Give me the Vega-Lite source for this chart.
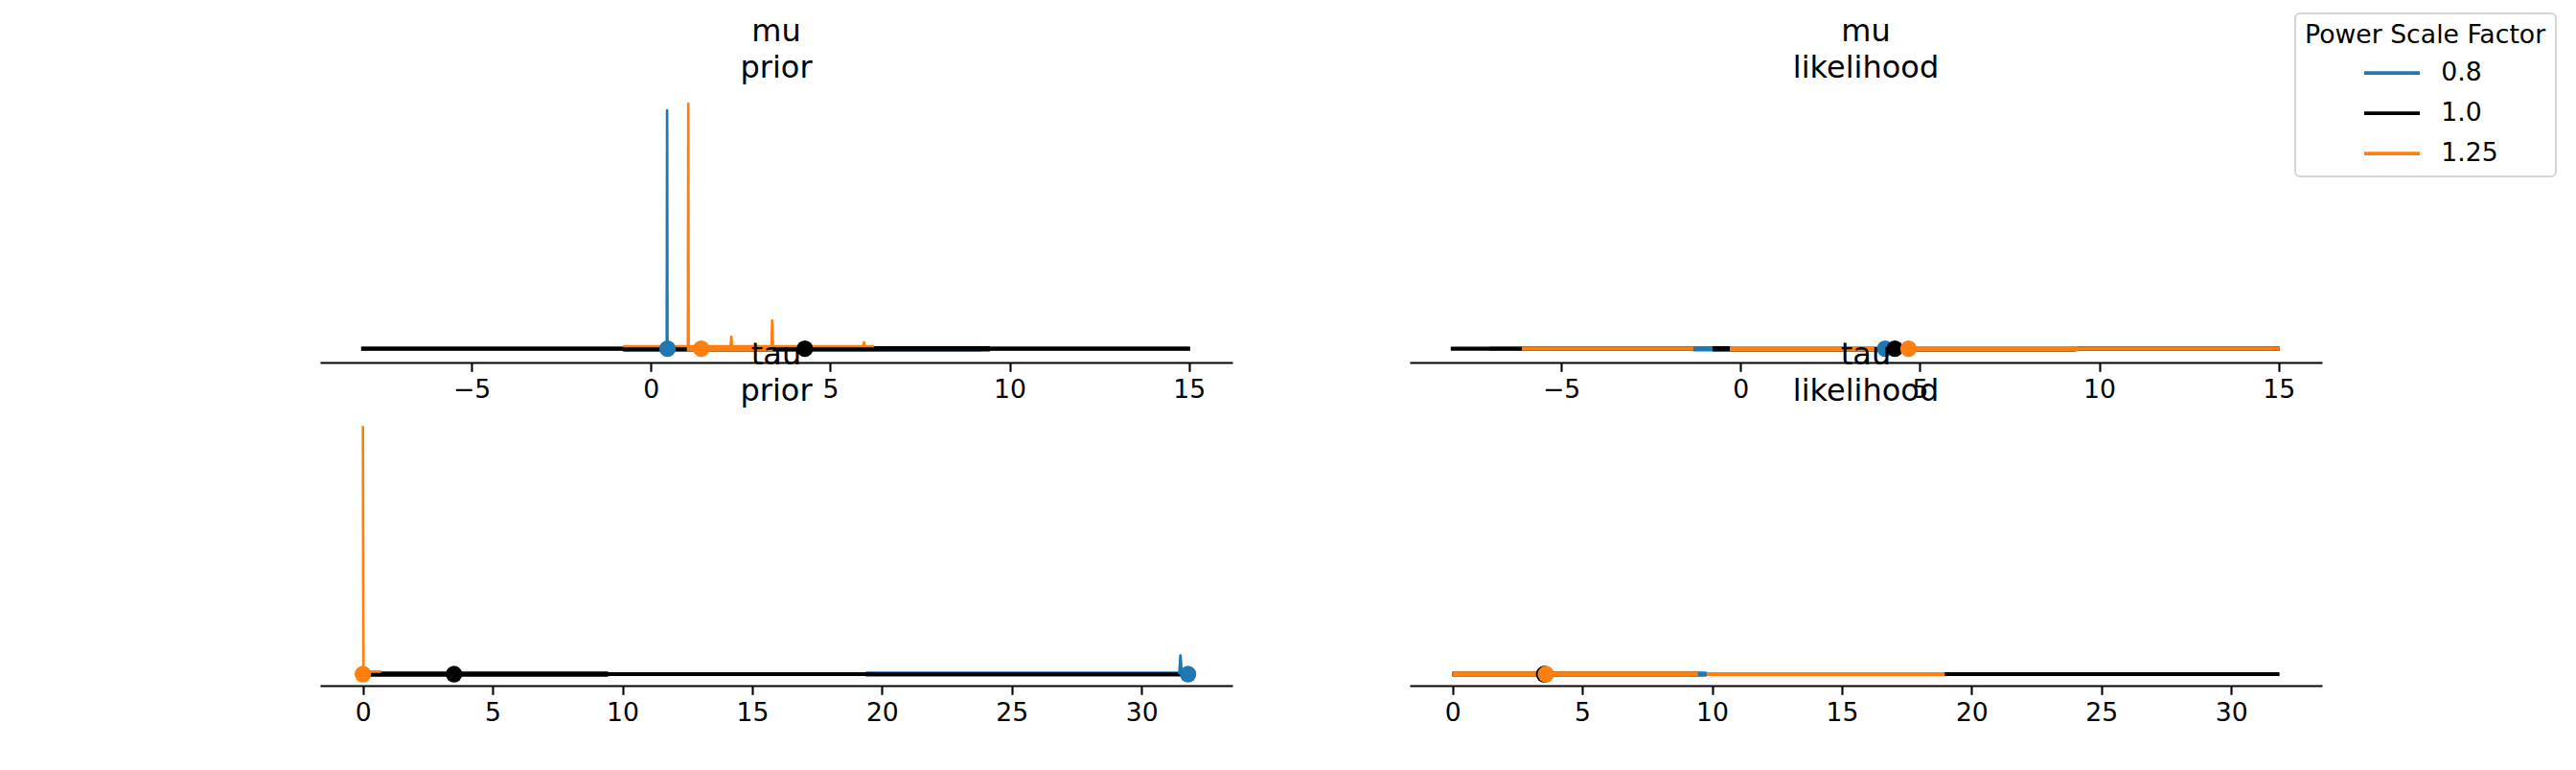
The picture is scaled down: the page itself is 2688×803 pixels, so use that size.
{
  "$schema": "https://vega.github.io/schema/vega-lite/v6.json",
  "padding": {"left": 334, "top": 13, "right": 5, "bottom": 5},
  "bounds": "flush",
  "columns": 2,
  "spacing": {"row": 61, "column": 185},
  "datasets": {
    "intervals": [
      {"variable": "mu", "component": "prior", "alpha": "0.8", "interval": "outer", "lo": -8.08, "hi": 15.03},
      {"variable": "mu", "component": "prior", "alpha": "1.0", "interval": "outer", "lo": -8.08, "hi": 15.03},
      {"variable": "mu", "component": "prior", "alpha": "1.25", "interval": "outer", "lo": -0.78, "hi": 6.22},
      {"variable": "mu", "component": "prior", "alpha": "0.8", "interval": "inner", "lo": -0.78, "hi": 9.2},
      {"variable": "mu", "component": "prior", "alpha": "1.0", "interval": "inner", "lo": -0.78, "hi": 9.45},
      {"variable": "mu", "component": "prior", "alpha": "1.25", "interval": "inner", "lo": 1.0, "hi": 3.4},
      {"variable": "mu", "component": "likelihood", "alpha": "0.8", "interval": "outer", "lo": -7.0, "hi": 15.03},
      {"variable": "mu", "component": "likelihood", "alpha": "1.0", "interval": "outer", "lo": -8.08, "hi": 15.03},
      {"variable": "mu", "component": "likelihood", "alpha": "1.25", "interval": "outer", "lo": -6.1, "hi": 15.03},
      {"variable": "mu", "component": "likelihood", "alpha": "0.8", "interval": "inner", "lo": -1.32, "hi": 9.3},
      {"variable": "mu", "component": "likelihood", "alpha": "1.0", "interval": "inner", "lo": -0.78, "hi": 9.35},
      {"variable": "mu", "component": "likelihood", "alpha": "1.25", "interval": "inner", "lo": -0.3, "hi": 9.4},
      {"variable": "tau", "component": "prior", "alpha": "0.8", "interval": "outer", "lo": 0.0, "hi": 31.8},
      {"variable": "tau", "component": "prior", "alpha": "0.8", "interval": "inner", "lo": 19.37, "hi": 31.8},
      {"variable": "tau", "component": "prior", "alpha": "1.0", "interval": "outer", "lo": 0.0, "hi": 31.8},
      {"variable": "tau", "component": "prior", "alpha": "1.0", "interval": "inner", "lo": 0.0, "hi": 9.45},
      {"variable": "tau", "component": "prior", "alpha": "1.25", "interval": "outer", "lo": 0.0, "hi": 0.3},
      {"variable": "tau", "component": "prior", "alpha": "1.25", "interval": "inner", "lo": 0.0, "hi": 0.1},
      {"variable": "tau", "component": "likelihood", "alpha": "1.0", "interval": "outer", "lo": 0.0, "hi": 31.86},
      {"variable": "tau", "component": "likelihood", "alpha": "0.8", "interval": "outer", "lo": 0.0, "hi": 18.9},
      {"variable": "tau", "component": "likelihood", "alpha": "1.25", "interval": "outer", "lo": 0.0, "hi": 18.96},
      {"variable": "tau", "component": "likelihood", "alpha": "1.0", "interval": "inner", "lo": 0.0, "hi": 9.5},
      {"variable": "tau", "component": "likelihood", "alpha": "0.8", "interval": "inner", "lo": 0.0, "hi": 9.79},
      {"variable": "tau", "component": "likelihood", "alpha": "1.25", "interval": "inner", "lo": 0.0, "hi": 9.46}
    ],
    "points": [
      {"variable": "mu", "component": "prior", "alpha": "0.8", "estimate": 0.46},
      {"variable": "mu", "component": "prior", "alpha": "1.0", "estimate": 4.29},
      {"variable": "mu", "component": "prior", "alpha": "1.25", "estimate": 1.4},
      {"variable": "mu", "component": "likelihood", "alpha": "0.8", "estimate": 4.03},
      {"variable": "mu", "component": "likelihood", "alpha": "1.0", "estimate": 4.3},
      {"variable": "mu", "component": "likelihood", "alpha": "1.25", "estimate": 4.68},
      {"variable": "tau", "component": "prior", "alpha": "0.8", "estimate": 31.79},
      {"variable": "tau", "component": "prior", "alpha": "1.0", "estimate": 3.51},
      {"variable": "tau", "component": "prior", "alpha": "1.25", "estimate": 0.0},
      {"variable": "tau", "component": "likelihood", "alpha": "0.8", "estimate": 3.55},
      {"variable": "tau", "component": "likelihood", "alpha": "1.0", "estimate": 3.53},
      {"variable": "tau", "component": "likelihood", "alpha": "1.25", "estimate": 3.6}
    ],
    "kde": [
      {"variable": "mu", "component": "prior", "alpha": "0.8", "x": 0.3, "density": 0.0},
      {"variable": "mu", "component": "prior", "alpha": "0.8", "x": 0.44, "density": 0.0},
      {"variable": "mu", "component": "prior", "alpha": "0.8", "x": 0.45, "density": 0.95},
      {"variable": "mu", "component": "prior", "alpha": "0.8", "x": 0.46, "density": 0.0},
      {"variable": "mu", "component": "prior", "alpha": "0.8", "x": 0.6, "density": 0.0},
      {"variable": "mu", "component": "prior", "alpha": "1.25", "x": -0.78, "density": 0.0103},
      {"variable": "mu", "component": "prior", "alpha": "1.25", "x": 1.03, "density": 0.0103},
      {"variable": "mu", "component": "prior", "alpha": "1.25", "x": 1.04, "density": 0.977},
      {"variable": "mu", "component": "prior", "alpha": "1.25", "x": 1.05, "density": 0.0103},
      {"variable": "mu", "component": "prior", "alpha": "1.25", "x": 2.22, "density": 0.0103},
      {"variable": "mu", "component": "prior", "alpha": "1.25", "x": 2.24, "density": 0.0485},
      {"variable": "mu", "component": "prior", "alpha": "1.25", "x": 2.26, "density": 0.0103},
      {"variable": "mu", "component": "prior", "alpha": "1.25", "x": 3.36, "density": 0.0103},
      {"variable": "mu", "component": "prior", "alpha": "1.25", "x": 3.38, "density": 0.1135},
      {"variable": "mu", "component": "prior", "alpha": "1.25", "x": 3.4, "density": 0.0103},
      {"variable": "mu", "component": "prior", "alpha": "1.25", "x": 5.92, "density": 0.0103},
      {"variable": "mu", "component": "prior", "alpha": "1.25", "x": 5.94, "density": 0.0256},
      {"variable": "mu", "component": "prior", "alpha": "1.25", "x": 5.96, "density": 0.0103},
      {"variable": "mu", "component": "prior", "alpha": "1.25", "x": 6.22, "density": 0.0103},
      {"variable": "tau", "component": "prior", "alpha": "0.8", "x": 31.45, "density": 0.0},
      {"variable": "tau", "component": "prior", "alpha": "0.8", "x": 31.5, "density": 0.074},
      {"variable": "tau", "component": "prior", "alpha": "0.8", "x": 31.55, "density": 0.0},
      {"variable": "tau", "component": "prior", "alpha": "1.25", "x": 0.0, "density": 0.98},
      {"variable": "tau", "component": "prior", "alpha": "1.25", "x": 0.02, "density": 0.01},
      {"variable": "tau", "component": "prior", "alpha": "1.25", "x": 0.7, "density": 0.01}
    ]
  },
  "concat": [
    {
      "width": 952,
      "height": 276,
      "title": {"text": ["mu", "prior"]},
      "layer": [
        {
          "data": {"name": "intervals"},
          "transform": [{"filter": "datum.variable == 'mu' && datum.component == 'prior'"}],
          "mark": {"type": "rule"},
          "encoding": {
            "x": {"field": "lo", "type": "quantitative", "scale": {"domain": [-9.225, 16.21], "nice": false, "zero": false}, "axis": {"values": [-5, 0, 5, 10, 15], "title": null}},
            "x2": {"field": "hi"},
            "y": {"datum": 0, "type": "quantitative", "scale": {"domain": [-0.0546, 1], "nice": false, "zero": false}, "axis": null},
            "color": {"field": "alpha", "type": "nominal", "title": "Power Scale Factor", "scale": {"domain": ["0.8", "1.0", "1.25"], "range": ["#1f77b4", "#000000", "#ff7f0e"]}, "legend": {"symbolType": "M-2,0H2"}},
            "strokeWidth": {"field": "interval", "type": "ordinal", "scale": {"domain": ["outer", "inner"], "range": [4.2, 5.4]}, "legend": null}
          }
        },
        {
          "data": {"name": "kde"},
          "transform": [{"filter": "datum.variable == 'mu' && datum.component == 'prior'"}],
          "mark": {"type": "line", "strokeWidth": 2.7, "strokeJoin": "round"},
          "encoding": {
            "x": {"field": "x", "type": "quantitative", "scale": {"domain": [-9.225, 16.21], "nice": false, "zero": false}, "axis": {"values": [-5, 0, 5, 10, 15], "title": null}},
            "y": {"field": "density", "type": "quantitative", "scale": {"domain": [-0.0546, 1], "nice": false, "zero": false}, "axis": null},
            "color": {"field": "alpha", "type": "nominal", "title": "Power Scale Factor", "scale": {"domain": ["0.8", "1.0", "1.25"], "range": ["#1f77b4", "#000000", "#ff7f0e"]}, "legend": {"symbolType": "M-2,0H2"}}
          }
        },
        {
          "data": {"name": "points"},
          "transform": [{"filter": "datum.variable == 'mu' && datum.component == 'prior'"}],
          "mark": {"type": "point", "filled": true, "size": 300, "opacity": 1, "strokeWidth": 0},
          "encoding": {
            "x": {"field": "estimate", "type": "quantitative", "scale": {"domain": [-9.225, 16.21], "nice": false, "zero": false}, "axis": {"values": [-5, 0, 5, 10, 15], "title": null}},
            "y": {"datum": 0, "type": "quantitative", "scale": {"domain": [-0.0546, 1], "nice": false, "zero": false}, "axis": null},
            "color": {"field": "alpha", "type": "nominal", "title": "Power Scale Factor", "scale": {"domain": ["0.8", "1.0", "1.25"], "range": ["#1f77b4", "#000000", "#ff7f0e"]}, "legend": {"symbolType": "M-2,0H2"}}
          }
        }
      ]
    },
    {
      "width": 952,
      "height": 276,
      "title": {"text": ["mu", "likelihood"]},
      "layer": [
        {
          "data": {"name": "intervals"},
          "transform": [{"filter": "datum.variable == 'mu' && datum.component == 'likelihood'"}],
          "mark": {"type": "rule"},
          "encoding": {
            "x": {"field": "lo", "type": "quantitative", "scale": {"domain": [-9.225, 16.21], "nice": false, "zero": false}, "axis": {"values": [-5, 0, 5, 10, 15], "title": null}},
            "x2": {"field": "hi"},
            "y": {"datum": 0, "type": "quantitative", "scale": {"domain": [-0.0546, 1], "nice": false, "zero": false}, "axis": null},
            "color": {"field": "alpha", "type": "nominal", "title": "Power Scale Factor", "scale": {"domain": ["0.8", "1.0", "1.25"], "range": ["#1f77b4", "#000000", "#ff7f0e"]}, "legend": {"symbolType": "M-2,0H2"}},
            "strokeWidth": {"field": "interval", "type": "ordinal", "scale": {"domain": ["outer", "inner"], "range": [4.2, 5.4]}, "legend": null}
          }
        },
        {
          "data": {"name": "points"},
          "transform": [{"filter": "datum.variable == 'mu' && datum.component == 'likelihood'"}],
          "mark": {"type": "point", "filled": true, "size": 300, "opacity": 1, "strokeWidth": 0},
          "encoding": {
            "x": {"field": "estimate", "type": "quantitative", "scale": {"domain": [-9.225, 16.21], "nice": false, "zero": false}, "axis": {"values": [-5, 0, 5, 10, 15], "title": null}},
            "y": {"datum": 0, "type": "quantitative", "scale": {"domain": [-0.0546, 1], "nice": false, "zero": false}, "axis": null},
            "color": {"field": "alpha", "type": "nominal", "title": "Power Scale Factor", "scale": {"domain": ["0.8", "1.0", "1.25"], "range": ["#1f77b4", "#000000", "#ff7f0e"]}, "legend": {"symbolType": "M-2,0H2"}}
          }
        }
      ]
    },
    {
      "width": 952,
      "height": 276,
      "title": {"text": ["tau", "prior"]},
      "layer": [
        {
          "data": {"name": "intervals"},
          "transform": [{"filter": "datum.variable == 'tau' && datum.component == 'prior'"}],
          "mark": {"type": "rule"},
          "encoding": {
            "x": {"field": "lo", "type": "quantitative", "scale": {"domain": [-1.65, 33.5], "nice": false, "zero": false}, "axis": {"values": [0, 5, 10, 15, 20, 25, 30], "title": null}},
            "x2": {"field": "hi"},
            "y": {"datum": 0, "type": "quantitative", "scale": {"domain": [-0.0454, 1], "nice": false, "zero": false}, "axis": null},
            "color": {"field": "alpha", "type": "nominal", "title": "Power Scale Factor", "scale": {"domain": ["0.8", "1.0", "1.25"], "range": ["#1f77b4", "#000000", "#ff7f0e"]}, "legend": {"symbolType": "M-2,0H2"}},
            "strokeWidth": {"field": "interval", "type": "ordinal", "scale": {"domain": ["outer", "inner"], "range": [4.2, 5.4]}, "legend": null}
          }
        },
        {
          "data": {"name": "kde"},
          "transform": [{"filter": "datum.variable == 'tau' && datum.component == 'prior'"}],
          "mark": {"type": "line", "strokeWidth": 2.7, "strokeJoin": "round"},
          "encoding": {
            "x": {"field": "x", "type": "quantitative", "scale": {"domain": [-1.65, 33.5], "nice": false, "zero": false}, "axis": {"values": [0, 5, 10, 15, 20, 25, 30], "title": null}},
            "y": {"field": "density", "type": "quantitative", "scale": {"domain": [-0.0454, 1], "nice": false, "zero": false}, "axis": null},
            "color": {"field": "alpha", "type": "nominal", "title": "Power Scale Factor", "scale": {"domain": ["0.8", "1.0", "1.25"], "range": ["#1f77b4", "#000000", "#ff7f0e"]}, "legend": {"symbolType": "M-2,0H2"}}
          }
        },
        {
          "data": {"name": "points"},
          "transform": [{"filter": "datum.variable == 'tau' && datum.component == 'prior'"}],
          "mark": {"type": "point", "filled": true, "size": 300, "opacity": 1, "strokeWidth": 0},
          "encoding": {
            "x": {"field": "estimate", "type": "quantitative", "scale": {"domain": [-1.65, 33.5], "nice": false, "zero": false}, "axis": {"values": [0, 5, 10, 15, 20, 25, 30], "title": null}},
            "y": {"datum": 0, "type": "quantitative", "scale": {"domain": [-0.0454, 1], "nice": false, "zero": false}, "axis": null},
            "color": {"field": "alpha", "type": "nominal", "title": "Power Scale Factor", "scale": {"domain": ["0.8", "1.0", "1.25"], "range": ["#1f77b4", "#000000", "#ff7f0e"]}, "legend": {"symbolType": "M-2,0H2"}}
          }
        }
      ]
    },
    {
      "width": 952,
      "height": 276,
      "title": {"text": ["tau", "likelihood"]},
      "layer": [
        {
          "data": {"name": "intervals"},
          "transform": [{"filter": "datum.variable == 'tau' && datum.component == 'likelihood'"}],
          "mark": {"type": "rule"},
          "encoding": {
            "x": {"field": "lo", "type": "quantitative", "scale": {"domain": [-1.65, 33.5], "nice": false, "zero": false}, "axis": {"values": [0, 5, 10, 15, 20, 25, 30], "title": null}},
            "x2": {"field": "hi"},
            "y": {"datum": 0, "type": "quantitative", "scale": {"domain": [-0.0454, 1], "nice": false, "zero": false}, "axis": null},
            "color": {"field": "alpha", "type": "nominal", "title": "Power Scale Factor", "scale": {"domain": ["0.8", "1.0", "1.25"], "range": ["#1f77b4", "#000000", "#ff7f0e"]}, "legend": {"symbolType": "M-2,0H2"}},
            "strokeWidth": {"field": "interval", "type": "ordinal", "scale": {"domain": ["outer", "inner"], "range": [4.2, 5.4]}, "legend": null}
          }
        },
        {
          "data": {"name": "points"},
          "transform": [{"filter": "datum.variable == 'tau' && datum.component == 'likelihood'"}],
          "mark": {"type": "point", "filled": true, "size": 300, "opacity": 1, "strokeWidth": 0},
          "encoding": {
            "x": {"field": "estimate", "type": "quantitative", "scale": {"domain": [-1.65, 33.5], "nice": false, "zero": false}, "axis": {"values": [0, 5, 10, 15, 20, 25, 30], "title": null}},
            "y": {"datum": 0, "type": "quantitative", "scale": {"domain": [-0.0454, 1], "nice": false, "zero": false}, "axis": null},
            "color": {"field": "alpha", "type": "nominal", "title": "Power Scale Factor", "scale": {"domain": ["0.8", "1.0", "1.25"], "range": ["#1f77b4", "#000000", "#ff7f0e"]}, "legend": {"symbolType": "M-2,0H2"}}
          }
        }
      ]
    }
  ],
  "config": {
    "font": "DejaVu Sans",
    "background": "white",
    "view": {"stroke": null},
    "axisX": {
      "domainColor": "black",
      "domainWidth": 2.1,
      "tickColor": "black",
      "tickWidth": 2.1,
      "tickSize": 9.3,
      "labelFontSize": 26.7,
      "labelColor": "black",
      "labelPadding": 6,
      "labelFlush": false,
      "labelOverlap": false,
      "grid": false
    },
    "title": {
      "fontSize": 32,
      "fontWeight": "normal",
      "color": "black",
      "lineHeight": 38.4,
      "offset": 14,
      "anchor": "middle",
      "frame": "group"
    },
    "legend": {
      "orient": "none",
      "legendX": 2061,
      "legendY": -88,
      "titleFontSize": 26.7,
      "titleFontWeight": "normal",
      "titleColor": "black",
      "titleLimit": 400,
      "titlePadding": 9,
      "labelFontSize": 26.7,
      "labelColor": "black",
      "labelOffset": 34.8,
      "padding": 10,
      "strokeColor": "#d5d5d5",
      "strokeWidth": 2,
      "cornerRadius": 5,
      "fillColor": "white",
      "symbolType": "M-2,0H2",
      "symbolStrokeWidth": 3.7,
      "symbolSize": 841,
      "symbolOffset": 74.5,
      "rowPadding": 11
    }
  }
}
